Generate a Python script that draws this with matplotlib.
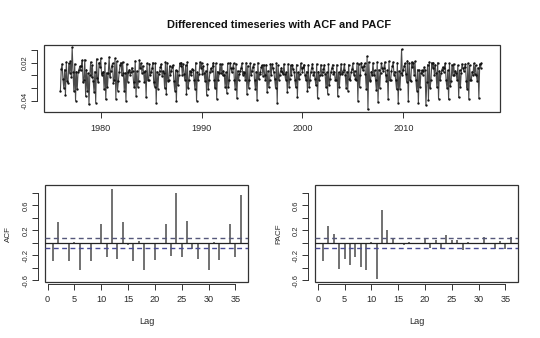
import numpy as np
import matplotlib
matplotlib.use('Agg')
import matplotlib.pyplot as plt
from matplotlib.patches import Rectangle

plt.rcParams['font.family'] = ['Liberation Sans', 'DejaVu Sans']

# monthly differences (x 1000), one row per year from 1976
start_year = 1976
diff_x1000 = [
    [-24, 10, 18, -6, -20, 9, -31, 21, -9, -12, 19, 4],
    [22, -2, 44, 6, -25, 18, -40, 6, -22, 5, 9, 14],
    [8, 15, 24, -11, -7, 25, -33, 9, -24, 3, -46, 0],
    [21, -3, 16, -9, -26, 6, -43, 26, -5, -11, 20, 13],
    [27, 1, 4, 6, -22, 20, -38, 4, -19, 4, 29, -2],
    [7, 14, 19, -12, -8, 27, -37, 22, -24, -9, 6, 17],
    [20, 0, 21, 3, -25, 4, -40, 18, -10, 6, 9, 1],
    [6, 12, 7, -10, -19, 23, -32, 7, -18, -9, 24, 12],
    [19, 4, 15, 5, -11, 7, -35, 19, -7, -8, 18, 0],
    [5, 11, 20, -11, -18, 19, -43, 6, -21, 2, 7, 13],
    [18, -1, 7, 4, -20, 21, -30, 20, -9, -7, 15, 1],
    [7, 13, 16, -9, -24, 8, -41, 7, -16, 1, 19, 14],
    [20, 1, 18, 2, -7, 16, -29, 21, -20, -8, 7, 0],
    [6, 10, 9, -7, -21, 20, -40, 5, -8, 2, 21, 12],
    [19, 2, 15, 3, -9, 7, -31, 18, -22, -7, 6, 11],
    [7, 14, 20, -8, -20, 19, -37, 6, -7, 3, 18, 3],
    [18, 0, 7, 1, -18, 5, -28, 19, -19, -8, 20, 11],
    [5, 12, 19, -7, -22, 18, -36, 7, -8, 2, 7, 12],
    [19, 1, 6, 3, -7, 20, -30, 15, -20, -7, 19, 0],
    [7, 13, 18, -8, -21, 6, -39, 20, -6, 2, 5, 13],
    [16, -1, 17, 1, -8, 17, -27, 7, -19, -7, 18, 1],
    [18, 11, 5, -6, -20, 19, -43, 16, -7, 1, 7, 12],
    [5, 2, 18, 2, -7, 5, -26, 18, -18, -6, 16, 0],
    [17, 10, 6, -7, -19, 17, -34, 5, -6, 2, 19, 11],
    [6, 13, 17, 1, -8, 6, -25, 17, -19, -7, 5, 12],
    [18, 1, 5, -6, -16, 18, -36, 6, -7, 1, 17, 0],
    [5, 10, 17, 2, -19, 5, -29, 18, -15, -6, 6, 11],
    [17, 2, 6, -7, -7, 17, -33, 5, -18, 2, 18, 2],
    [6, 9, 18, 1, -20, 6, -24, 17, -6, -7, 5, 10],
    [19, 1, 7, -6, -8, 19, -40, 18, -19, 1, 20, 13],
    [8, 14, 19, 2, -21, 30, -54, 21, -7, -9, 6, 1],
    [20, 0, 8, -7, -23, 21, -42, 9, -20, 4, 19, 12],
    [7, 12, 21, 1, -9, 8, -38, 22, -8, -8, 7, 14],
    [21, 1, 6, -8, -22, 20, -43, 7, -21, 3, 41, 1],
    [8, 14, 19, 2, -10, 23, -40, 20, -7, -9, 21, 13],
    [19, 0, 22, -7, -24, 9, -44, 8, -19, 4, 8, 1],
    [7, 13, 8, -47, -11, 17, -39, 21, -20, -8, 20, 12],
    [20, 1, 17, 4, -19, 20, -37, 7, -8, 3, 9, 13],
    [6, 12, 19, -8, -20, 8, -38, 19, -17, -9, 17, 1],
    [18, 0, 7, 3, -8, 16, -35, 8, -19, 4, 18, 12],
    [7, 13, 18, -9, -21, 19, -37, 16, -8, -7, 6, 0],
    [19, 2, 16, 1, -9, 12, -36, 18, 12, 19],
]

acf_vals = [-0.29, 0.33, -0.02, -0.29, 0.01, -0.44, 0.00, -0.29, 0.00, 0.30,
            -0.23, 0.87, -0.25, 0.34, -0.04, -0.29, 0.03, -0.44, 0.00, -0.27,
            -0.02, 0.30, -0.21, 0.80, -0.22, 0.35, -0.10, -0.25, 0.00, -0.43,
            0.01, -0.27, -0.02, 0.31, -0.22, 0.77]
pacf_vals = [-0.29, 0.27, 0.14, -0.41, -0.25, -0.36, -0.22, -0.38, -0.43, 0.02,
             -0.58, 0.52, 0.20, 0.08, -0.01, -0.03, 0.01, -0.02, 0.00, 0.08,
             -0.08, 0.05, -0.10, 0.12, 0.04, 0.05, -0.12, 0.01, -0.01, 0.00,
             0.10, -0.01, -0.10, 0.03, -0.10, 0.09]
ci_level = 0.0876

series = np.concatenate([np.array(r, dtype=float) for r in diff_x1000]) / 1000
years = start_year + np.arange(len(series)) / 12
lags = np.arange(1, len(acf_vals) + 1)

ink = '#2a2a2a'


def r_style(ax, xticks, yticks, ylabels, xoff=1.5, yoff=5):
    # spine offsets first: set_position rebuilds the ticks
    for side in ['top', 'right']:
        ax.spines[side].set_visible(False)
    ax.spines['left'].set_position(('outward', yoff))
    ax.spines['bottom'].set_position(('outward', xoff))
    ax.spines['left'].set_bounds(yticks[0], yticks[-1])
    ax.spines['bottom'].set_bounds(xticks[0], xticks[-1])
    for side in ['left', 'bottom']:
        ax.spines[side].set_linewidth(0.7)
        ax.spines[side].set_color('#333333')
    ax.set_xticks(xticks)
    ax.set_xticklabels([str(t) for t in xticks])
    ax.set_yticks(yticks)
    ax.set_yticklabels(ylabels)
    ax.tick_params(direction='out', length=4, width=0.7, color='#333333',
                   labelcolor=ink)
    ax.tick_params(axis='x', pad=4, labelsize=6.6)
    ax.tick_params(axis='y', pad=2, labelsize=5.5, labelrotation=90)
    for lab in ax.get_yticklabels():
        lab.set_va('center')
    ax.add_patch(Rectangle((0, 0), 1, 1, transform=ax.transAxes, fill=False,
                           lw=0.9, ec='#333333', clip_on=False))


fig = plt.figure(figsize=(5.4, 3.38), dpi=100)

# time series panel
ax1 = fig.add_axes([0.082, 0.6695, 0.844, 0.1975])
ax1.plot(years, series, color='#4a4a4a', lw=0.8, marker='o', ms=0.7,
         mfc='#111111', mec='#111111')
ax1.set_xlim(1974.4, 2019.6)
ax1.set_ylim(-0.0575, 0.048)
r_style(ax1, [1980, 1990, 2000, 2010], [-0.04, -0.02, 0.0, 0.02, 0.04],
        ['-0.04', '', '', '0.02', ''], xoff=0.5)
fig.text(0.517, 0.927, 'Differenced timeseries with ACF and PACF',
         ha='center', va='center', fontsize=7.9, fontweight='bold', color='#111111')

acf_yticks = [-0.6, -0.4, -0.2, 0.0, 0.2, 0.4, 0.6, 0.8]
acf_ylabels = ['-0.6', '', '-0.2', '', '0.2', '', '0.6', '']
lag_ticks = [0, 5, 10, 15, 20, 25, 30, 35]

for left, vals, name in [(0.0839, acf_vals, 'ACF'), (0.584, pacf_vals, 'PACF')]:
    ax = fig.add_axes([left, 0.1648, 0.3748, 0.2879])
    ax.vlines(lags, 0, vals, color='#4a4a4a', lw=1.1)
    ax.axhline(0, color='#222222', lw=0.9)
    ax.axhline(ci_level, color='#55577a', lw=1.0, ls=(0, (3.5, 2.5)))
    ax.axhline(-ci_level, color='#484b95', lw=1.0, ls=(0, (3.5, 2.5)))
    ax.set_xlim(-0.44, 37.3)
    ax.set_ylim(-0.629, 0.928)
    r_style(ax, lag_ticks, acf_yticks, acf_ylabels)
    ax.set_xlabel('Lag', fontsize=6.6, color=ink, labelpad=9)
    ax.set_ylabel(name, fontsize=5.8, color=ink, labelpad=8)

fig.savefig('out.png', dpi=100)
